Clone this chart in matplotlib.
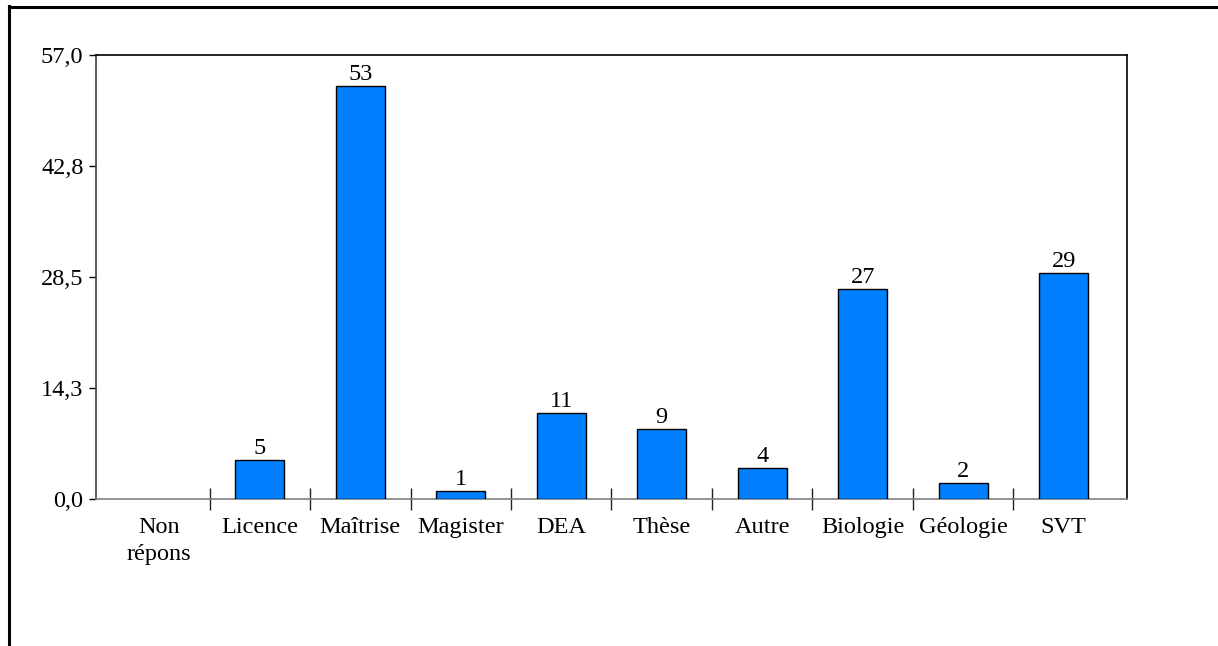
import matplotlib
matplotlib.use("Agg")
import matplotlib.pyplot as plt
from matplotlib.lines import Line2D

categories = ["Non\nrépons", "Licence", "Maîtrise", "Magister", "DEA", "Thèse",
              "Autre", "Biologie", "Géologie", "SVT"]
values = [0, 5, 53, 1, 11, 9, 4, 27, 2, 29]
yticks = [0.0, 14.25, 28.5, 42.75, 57.0]
ytick_labels = ["0,0", "14,3", "28,5", "42,8", "57,0"]

plt.rcParams['font.family'] = ['Liberation Serif', 'DejaVu Serif']

fig = plt.figure(figsize=(12.18, 6.46), dpi=100)
ax = fig.add_axes([96/1218, 1-499/646, (1127-96)/1218, (499-55)/646])

x = list(range(len(categories)))
bars = ax.bar(x, values, width=0.49, color="#0080FF", edgecolor="black", linewidth=1.0, zorder=3)
for b, v in zip(bars, values):
    if v == 0:
        b.set_linewidth(0)
for xi, v in zip(x, values):
    if v > 0:
        ax.text(xi, v + 0.15, str(v), ha="center", va="bottom", fontsize=17.5, clip_on=False)

ax.set_ylim(0, 57)
ax.set_xlim(-0.63, 9.63)
ax.set_yticks(yticks)
ax.set_yticklabels(ytick_labels, fontsize=17.5)
ax.tick_params(axis="y", direction="out", length=5, width=1, pad=4)

ax.set_xticks(x)
ax.set_xticklabels(categories, fontsize=17.5, linespacing=1.35)
ax.tick_params(axis="x", which="major", length=0, pad=13)
ax.set_xticks([i + 0.5 for i in range(len(categories) - 1)], minor=True)
ax.tick_params(axis="x", which="minor", direction="inout", length=16, width=1, color="#222222")

ax.spines["top"].set_color("black")
ax.spines["right"].set_color("black")
ax.spines["left"].set_color("#404040")
ax.spines["bottom"].set_color("#808080")
for s in ax.spines.values():
    s.set_linewidth(1.2)

# outer frame (top and left edges visible)
fig.add_artist(Line2D([9/1218, 9/1218], [0, 1 - 6/646], transform=fig.transFigure,
                      color="black", linewidth=2.2))
fig.add_artist(Line2D([9/1218, 1], [1 - 7/646, 1 - 7/646], transform=fig.transFigure,
                      color="black", linewidth=2.2))

fig.savefig("out.png", dpi=100)
